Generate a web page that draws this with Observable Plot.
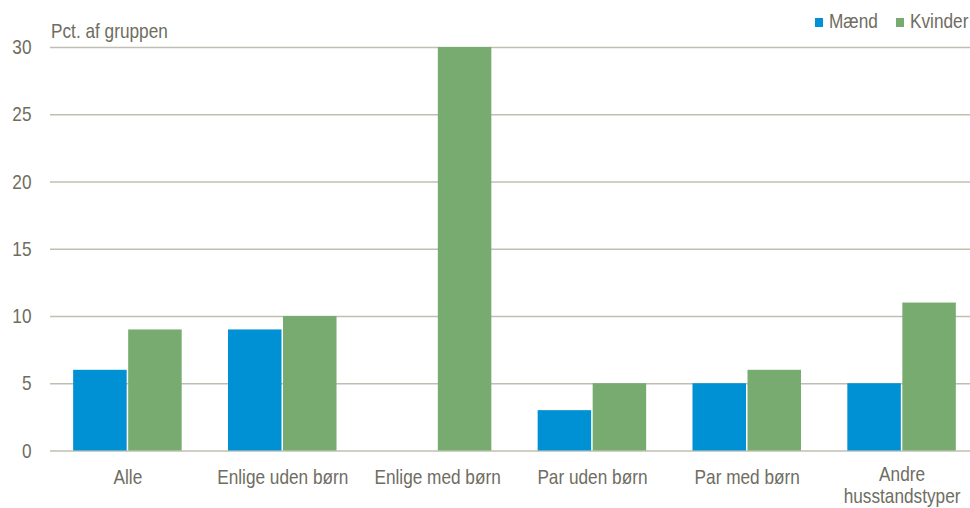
<!DOCTYPE html>
<html>
<head>
<meta charset="utf-8">
<script src="https://cdn.jsdelivr.net/npm/d3@7"></script>
<script src="https://cdn.jsdelivr.net/npm/@observablehq/plot@0.6"></script>
<style>
  html, body { margin: 0; padding: 0; background: #fff; overflow: hidden; }
  #wrap { position: relative; width: 970px; height: 508px; overflow: hidden;
          font-family: "Liberation Sans", Arial, sans-serif;
          color: #6e6d5f; font-size: 21px; }
  #wrap svg { position: absolute; left: 0; top: 0; }
  .ov { position: absolute; line-height: 21px; white-space: nowrap;
        transform: scaleX(0.82); transform-origin: left center; }
  .sw { position: absolute; width: 8px; height: 9px; }
</style>
</head>
<body>
<div id="wrap"></div>
<script>
const categories = ["Alle", "Enlige uden børn", "Enlige med børn", "Par uden børn", "Par med børn", "Andre husstandstyper"];
const tickLabels = ["Alle", "Enlige uden børn", "Enlige med børn", "Par uden børn", "Par med børn", "Andre\nhusstandstyper"];
const series = ["Mænd", "Kvinder"];
const maend = [6, 9, null, 3, 5, 5];
const kvinder = [9, 10, 30, 5, 6, 11];
const yTicks = [0, 5, 10, 15, 20, 25, 30];
const colors = ["#0090d4", "#78ab70"];
const yLabel = "Pct. af gruppen";

const data = categories.flatMap((c, i) => [
  {group: c, sex: series[0], value: maend[i]},
  {group: c, sex: series[1], value: kvinder[i]}
]).filter(d => d.value != null);

const W = 970, H = 508, ML = 50, MR = -9;
const gridLen = W - ML;
const FONT = '"Liberation Sans", Arial, sans-serif';
const fmt = d => tickLabels[categories.indexOf(d)];
const singleLine = categories.filter((c, i) => !tickLabels[i].includes("\n"));
const multiLine = categories.filter((c, i) => tickLabels[i].includes("\n"));

const chart = Plot.plot({
  width: W,
  height: H,
  marginLeft: ML,
  marginRight: MR,
  marginTop: 47,
  marginBottom: 57.5,
  style: {
    fontFamily: FONT,
    fontSize: "21px",
    color: "#6e6d5f",
    background: "transparent",
    overflow: "visible"
  },
  fx: {domain: categories, paddingInner: 0, paddingOuter: 0, round: false, label: null},
  x: {domain: series, paddingInner: 0, paddingOuter: 0.4075, round: false, axis: null},
  y: {domain: [0, 30], label: null},
  color: {domain: series, range: colors},
  marks: [
    // horizontal gridlines: y-axis ticks extended to the right across the whole frame
    Plot.axisY({ticks: yTicks, tickSize: -gridLen, tickFormat: () => "", stroke: "#bfbfb1", strokeWidth: 1.3, label: null}),
    Plot.barY(data, {fx: "group", x: "sex", y: "value", fill: "sex", insetLeft: 0.75, insetRight: 0.75}),
    Plot.axisY({ticks: yTicks, tickSize: 0, tickPadding: 19, label: null, fontSize: 21}),
    Plot.axisFx({anchor: "bottom", ticks: singleLine, tickSize: 0, tickPadding: 18, label: null, fontSize: 21, tickFormat: fmt}),
    Plot.axisFx({anchor: "bottom", ticks: multiLine, tickSize: 0, tickPadding: 14, label: null, fontSize: 21, lineHeight: 1.05, tickFormat: fmt})
  ]
});

const wrap = document.getElementById("wrap");
wrap.appendChild(chart);

// condense SVG text (the reference uses a narrow sans face)
chart.querySelectorAll("text").forEach(t => {
  const spans = t.querySelectorAll("tspan");
  const els = spans.length ? [...spans] : [t];
  els.forEach(e => {
    const L = e.getComputedTextLength();
    if (L > 0) {
      e.setAttribute("textLength", (L * 0.82).toFixed(2));
      e.setAttribute("lengthAdjust", "spacingAndGlyphs");
    }
  });
});

// y-axis title
const t = document.createElement("div");
t.className = "ov";
t.style.left = "51px";
t.style.top = "20px";
t.textContent = yLabel;
wrap.appendChild(t);

// legend
const legendPos = [{sw: 815, tx: 829}, {sw: 896, tx: 910}];
series.forEach((s, i) => {
  const sw = document.createElement("div");
  sw.className = "sw";
  sw.style.left = legendPos[i].sw + "px";
  sw.style.top = "18px";
  sw.style.background = colors[i];
  wrap.appendChild(sw);
  const tx = document.createElement("div");
  tx.className = "ov";
  tx.style.left = legendPos[i].tx + "px";
  tx.style.top = "10px";
  tx.textContent = s;
  wrap.appendChild(tx);
});
</script>
</body>
</html>
